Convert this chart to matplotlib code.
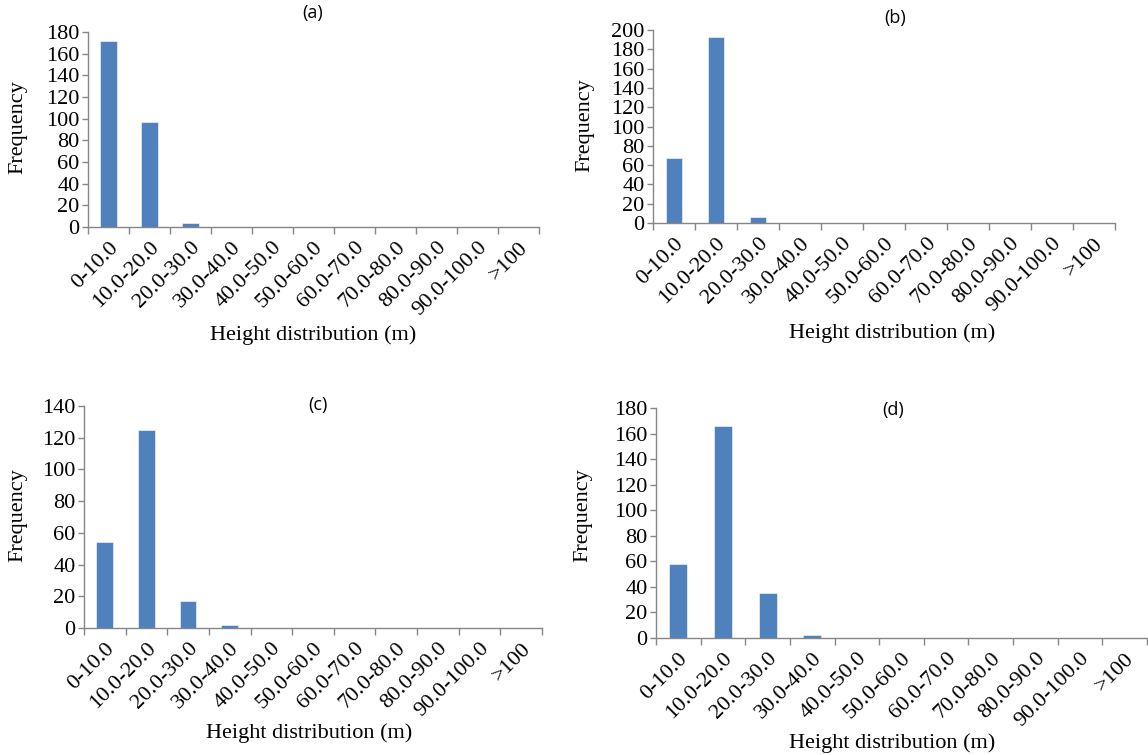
import matplotlib
matplotlib.use("Agg")
import matplotlib.pyplot as plt
from matplotlib.ticker import FixedLocator, MultipleLocator

# height classes (m)
categories = ["0-10.0", "10.0-20.0", "20.0-30.0", "30.0-40.0", "40.0-50.0",
              "50.0-60.0", "60.0-70.0", "70.0-80.0", "80.0-90.0",
              "90.0-100.0", ">100"]

freq_a = [172, 97, 4, 0, 0, 0, 0, 0, 0, 0, 0]
freq_b = [67, 193, 6, 0.5, 0, 0, 0, 0, 0, 0, 0]
freq_c = [54, 125, 17, 2, 0, 0, 0, 0, 0, 0, 0]
freq_d = [58, 166, 35, 2, 0, 0, 0, 0, 0, 0, 0]

panel_titles = ["(a)", "(b)", "(c)", "(d)"]
y_maxes = [180, 200, 140, 180]
y_steps = [20, 20, 20, 20]

BAR_COLOR = "#4F81BD"
AXIS_COLOR = "#868686"
SERIF = "Liberation Serif"
FS = 16
W, H = 1148, 755


def px_rect(left, right, top, bottom):
    """convert a pixel box to figure fractions"""
    return [left / W, 1 - bottom / H, (right - left) / W, (bottom - top) / H]


def _plot_panel(ax, values, ymax, step):
    x = list(range(len(categories)))
    ax.bar(x, values, width=0.4, color=BAR_COLOR, edgecolor="white", linewidth=0.4, zorder=2)

    ax.set_xlim(-0.5, len(categories) - 0.5)
    ax.set_ylim(0, ymax)
    ax.yaxis.set_major_locator(MultipleLocator(step))

    # category labels at centres, tick marks on boundaries
    ax.set_xticks(x)
    ax.set_xticklabels(categories, rotation=45, ha="right", rotation_mode="anchor",
                       fontsize=FS, family=SERIF)
    ax.xaxis.set_minor_locator(FixedLocator([i - 0.5 for i in range(len(categories) + 1)]))
    ax.tick_params(axis="x", which="major", length=0, pad=8)
    ax.tick_params(axis="x", which="minor", length=5, width=1, color=AXIS_COLOR, direction="out")
    ax.tick_params(axis="y", length=4, width=1, color=AXIS_COLOR, pad=2)
    for lbl in ax.get_yticklabels():
        lbl.set_fontsize(FS)
        lbl.set_family(SERIF)

    for side in ("top", "right"):
        ax.spines[side].set_visible(False)
    for side in ("left", "bottom"):
        ax.spines[side].set_color(AXIS_COLOR)
        ax.spines[side].set_linewidth(1)


fig = plt.figure(figsize=(W / 100, H / 100), dpi=100)

boxes = [px_rect(88, 539, 32, 227),
         px_rect(653, 1115, 30, 223),
         px_rect(84, 542, 406, 628),
         px_rect(656, 1147, 408, 638)]
title_pos = [(313, 13), (895, 18), (318, 405), (893, 410)]
xlabel_pos = [(313, 335), (892, 333), (309, 733), (892, 743)]
ylabel_pos = [(18, 127), (585, 125), (18, 515), (583, 515)]

all_values = [freq_a, freq_b, freq_c, freq_d]

for i in range(4):
    ax = fig.add_axes(boxes[i])
    _plot_panel(ax, all_values[i], y_maxes[i], y_steps[i])

    tx, ty = title_pos[i]
    fig.text(tx / W, 1 - ty / H, panel_titles[i], ha="center", va="center",
             fontsize=13, family=["Open Sans", "DejaVu Sans"])
    lx, ly = xlabel_pos[i]
    fig.text(lx / W, 1 - ly / H, "Height distribution (m)", ha="center", va="center",
             fontsize=FS, family=SERIF)
    yx, yy = ylabel_pos[i]
    fig.text(yx / W, 1 - yy / H, "Frequency", ha="center", va="center", rotation=90,
             fontsize=FS, family=SERIF)

fig.savefig("out.png", dpi=100)
